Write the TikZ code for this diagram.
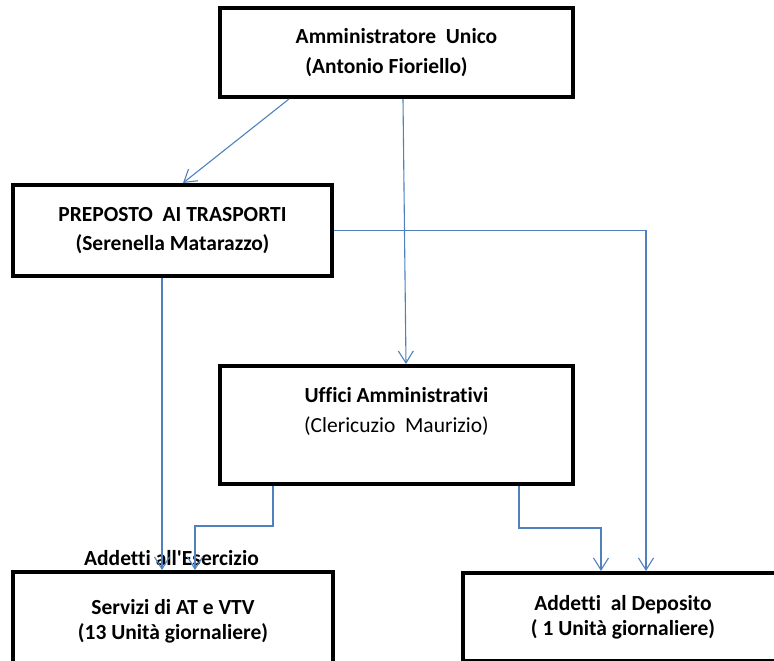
\documentclass[tikz,border=0pt]{standalone}
\usepackage{fontspec}
\usepackage{tikz}
\usetikzlibrary{arrows.meta}
\newfontfamily\carlito[Ligatures=CommonOff]{Carlito}
\definecolor{linea}{RGB}{79,129,189}

\begin{document}
\begin{tikzpicture}[x=1pt,y=-1pt,
		ruolo/.style={draw,line width=4pt,inner sep=0pt,align=center,
			font=\carlito\bfseries\fontsize{21.5}{30}\selectfont},
		freccia/.style={draw=linea,line width=1.1pt,
			-{Straight Barb[length=12pt,width=15pt]}}]
			\clip (0,0) rectangle (774,661);
			\node[ruolo,minimum width=353,minimum height=89](amm) at (396.5,52.5)
			{Amministratore~ Unico\\(Antonio Fioriello)\hspace*{20pt}};
			\node[ruolo,minimum width=319,minimum height=91,
			font=\carlito\bfseries\fontsize{21.5}{29}\selectfont](prep) at (172.5,230.5)
			{PREPOSTO~ AI TRASPORTI\\(Serenella Matarazzo)};
			\node[ruolo,minimum width=353,minimum height=118](uff) at (396.5,425)
			{Uffici Amministrativi\\\mdseries(Clericuzio~ Maurizio)\\\mbox{}};
			\node[ruolo,minimum width=320,minimum height=99,
			font=\carlito\bfseries\fontsize{21.5}{25}\selectfont](serv) at (173,621.5)
			{Servizi di AT e VTV\\(13 Unità giornaliere)};
			\node[ruolo,minimum width=320,minimum height=88,
			font=\carlito\bfseries\fontsize{21.5}{25}\selectfont](dep) at (623,617)
			{Addetti~ al Deposito\\( 1 Unità giornaliere)};
			\node[font=\carlito\bfseries\fontsize{21.5}{25}\selectfont,anchor=base,
			inner sep=0pt](eserc) at (171.5,565) {Addetti all'Esercizio};
			\draw[freccia] ([xshift=71pt]amm.south west)--([xshift=172pt]prep.north west);
			\draw[freccia] ([xshift=185pt]amm.south west)--([xshift=188pt]uff.north west);
			\draw[freccia] (prep.east) -| ([xshift=185pt]dep.north west);
			\draw[freccia] ([xshift=151pt]prep.south west)--([xshift=151pt]serv.north west);
			\draw[freccia] ([xshift=55pt]uff.south west)-- ++(0,40) -| ([xshift=184pt]serv.north west);
			\draw[freccia] ([xshift=301pt]uff.south west)-- ++(0,42) -| ([xshift=140pt]dep.north west);
		\end{tikzpicture}
\end{document}
